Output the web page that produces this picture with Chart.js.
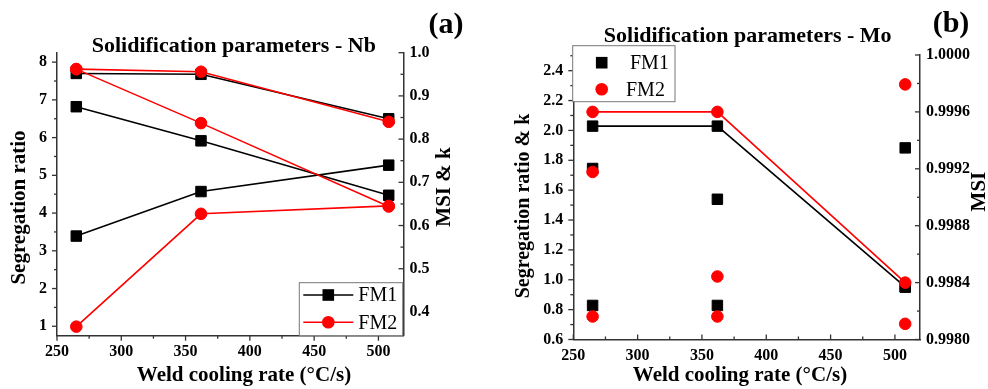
<!DOCTYPE html>
<html>
<head>
<meta charset="utf-8">
<script src="https://cdn.jsdelivr.net/npm/chart.js@4.4.0/dist/chart.umd.min.js"></script>
<style>
  body { margin: 0; background: #fff; width: 988px; height: 389px; overflow: hidden; position: relative; }
  canvas { position: absolute; top: 0; }
  #chartNb { left: 0; }
  #chartMo { left: 494px; }
</style>
</head>
<body>
<canvas id="chartNb" width="494" height="389"></canvas>
<canvas id="chartMo" width="494" height="389"></canvas>
<script>
const FONT = '"Liberation Serif", "Times New Roman", Times, serif';
Chart.defaults.font.family = FONT;
Chart.defaults.color = '#000';

// weld cooling rates (°C/s)
const coolingRate = [265, 362, 508];

// (a) Nb
const segNbFM1 = [3.39, 4.57, 5.27];
const segNbFM2 = [0.99, 3.98, 4.19];
const msiNbFM1 = [0.952, 0.950, 0.847];
const msiNbFM2 = [0.962, 0.956, 0.840];
const kNbFM1 = [0.875, 0.796, 0.670];
const kNbFM2 = [0.962, 0.837, 0.644];

// (b) Mo
const msiMoFM1 = [0.9995, 0.9995, 0.99837];
const msiMoFM2 = [0.9996, 0.9996, 0.9984];
const segMoFM1 = [1.745, 1.539, 1.883];
const segMoFM2 = [1.722, 1.022, 2.308];
const kMoFM1 = [0.828, 0.828, 0.951];
const kMoFM2 = [0.754, 0.754, 0.705];

// tick labels
const rateTicks = [250, 300, 350, 400, 450, 500];
const segTicksNb = [1, 2, 3, 4, 5, 6, 7, 8];
const msiTicksNb = [0.4, 0.5, 0.6, 0.7, 0.8, 0.9, 1.0];
const segTicksMo = [0.6, 0.8, 1.0, 1.2, 1.4, 1.6, 1.8, 2.0, 2.2, 2.4];
const msiTicksMo = [0.9980, 0.9984, 0.9988, 0.9992, 0.9996, 1.0000];

const BLACK = '#000000';
const RED = '#ff0000';

function pts(ys) {
    return coolingRate.map((x, i) => ({ x: x, y: ys[i] }));
}

function series(label, ys, axis, color, style, showLine, order) {
    return {
        label: label,
        data: pts(ys),
        yAxisID: axis,
        borderColor: color,
        backgroundColor: color,
        pointBorderColor: color,
        pointBackgroundColor: color,
        pointStyle: style,
        pointRadius: style === 'rect' ? 7.4 : 5.8,
        pointBorderWidth: 1,
        borderWidth: 1.6,
        showLine: showLine,
        order: order
    };
}

function axis(pos, min, max, tickList, digits, pad, size) {
    return {
        type: 'linear',
        position: pos,
        min: min,
        max: max,
        afterBuildTicks: s => { s.ticks = tickList.map(v => ({ value: v })); },
        afterFit: s => {
            if (pos === 'bottom') s.height = size; else s.width = size;
        },
        ticks: {
            autoSkip: false,
            padding: pad,
            font: { size: 16, weight: 'bold' },
            callback: v => digits == null ? String(v) : v.toFixed(digits)
        },
        grid: { display: false, drawTicks: false },
        border: { display: true, color: '#333', width: 1.5 }
    };
}

// ticks, axis titles and legend drawn on top of the chart
function makeDecor(cfg) {
    return {
        id: 'decor',
        afterDraw(chart) {
            const ctx = chart.ctx;
            ctx.save();
            ctx.strokeStyle = '#333';
            ctx.lineWidth = 1.3;
            cfg.ticks.forEach(t => {
                const s = chart.scales[t.id];
                const half = (t.majors[1] - t.majors[0]) / 2;
                for (let k = -40; k < 2 * t.majors.length + 40; k++) {
                    const v = t.majors[0] + k * half;
                    if (v < s.min - half * 1e-3 || v > s.max + half * 1e-3) continue;
                    const len = k % 2 === 0 ? 5 : 3;
                    const p = s.getPixelForValue(v);
                    ctx.beginPath();
                    if (t.id === 'x') {
                        const y0 = s.top;
                        ctx.moveTo(p, y0);
                        ctx.lineTo(p, t.dir === 'out' ? y0 + len : y0 - len);
                    } else if (s.position === 'left') {
                        const x0 = s.right;
                        ctx.moveTo(x0, p);
                        ctx.lineTo(t.dir === 'out' ? x0 - len : x0 + len, p);
                    } else {
                        const x0 = s.left;
                        ctx.moveTo(x0, p);
                        ctx.lineTo(t.dir === 'out' ? x0 + len : x0 - len, p);
                    }
                    ctx.stroke();
                }
            });

            cfg.texts.forEach(t => {
                ctx.save();
                ctx.translate(t.x, t.y);
                if (t.rot) ctx.rotate(t.rot * Math.PI / 180);
                ctx.font = (t.bold ? 'bold ' : '') + t.size + 'px ' + FONT;
                ctx.fillStyle = '#000';
                ctx.textAlign = 'center';
                ctx.textBaseline = 'middle';
                ctx.fillText(t.text, 0, 0);
                ctx.restore();
            });

            const lg = cfg.legend;
            ctx.fillStyle = '#fff';
            ctx.fillRect(lg.box[0], lg.box[1], lg.box[2] - lg.box[0], lg.box[3] - lg.box[1]);
            ctx.strokeStyle = '#777';
            ctx.lineWidth = 1;
            ctx.strokeRect(lg.box[0], lg.box[1], lg.box[2] - lg.box[0], lg.box[3] - lg.box[1]);
            lg.items.forEach(it => {
                if (lg.line) {
                    ctx.strokeStyle = it.color;
                    ctx.lineWidth = 1.6;
                    ctx.beginPath();
                    ctx.moveTo(lg.line[0], it.y);
                    ctx.lineTo(lg.line[1], it.y);
                    ctx.stroke();
                }
                ctx.fillStyle = it.color;
                if (it.style === 'rect') {
                    ctx.fillRect(lg.mx - 5.8, it.y - 5.8, 11.6, 11.6);
                } else {
                    ctx.beginPath();
                    ctx.arc(lg.mx, it.y, 6.3, 0, Math.PI * 2);
                    ctx.fill();
                }
                ctx.fillStyle = '#000';
                ctx.font = '20px ' + FONT;
                ctx.textAlign = 'left';
                ctx.textBaseline = 'middle';
                ctx.fillText(it.text, it.tx, it.y + 1);
            });
            ctx.restore();
        }
    };
}

const baseOptions = {
    responsive: false,
    animation: false,
    plugins: { legend: { display: false }, tooltip: { enabled: false } }
};

new Chart(document.getElementById('chartNb'), {
    type: 'scatter',
    data: {
        datasets: [
            series('FM1 segregation ratio', segNbFM1, 'y', BLACK, 'rect', true, 2),
            series('FM1 MSI', msiNbFM1, 'y1', BLACK, 'rect', true, 2),
            series('FM1 k', kNbFM1, 'y1', BLACK, 'rect', true, 2),
            series('FM2 segregation ratio', segNbFM2, 'y', RED, 'circle', true, 1),
            series('FM2 MSI', msiNbFM2, 'y1', RED, 'circle', true, 1),
            series('FM2 k', kNbFM2, 'y1', RED, 'circle', true, 1)
        ]
    },
    options: Object.assign({}, baseOptions, {
        layout: { padding: { top: 52.7, left: 0, right: 0, bottom: 0 } },
        scales: {
            x: axis('bottom', 250, 519.5, rateTicks, null, 7, 53.3),
            y: axis('left', 0.75, 8.25, segTicksNb, null, 10, 57),
            y1: axis('right', 0.345, 1.0, msiTicksNb, 1, 6, 90.5)
        }
    }),
    plugins: [makeDecor({
        ticks: [
            { id: 'x', majors: rateTicks, dir: 'out' },
            { id: 'y', majors: segTicksNb, dir: 'out' },
            { id: 'y1', majors: msiTicksNb, dir: 'in' }
        ],
        texts: [
            { text: 'Solidification parameters - Nb', x: 233.8, y: 46.5, size: 22, bold: true },
            { text: '(a)', x: 446, y: 25, size: 30, bold: true },
            { text: 'Segregation ratio', x: 20, y: 207.5, size: 21, bold: true, rot: -90 },
            { text: 'MSI & k', x: 445, y: 187, size: 21, bold: true, rot: -90 },
            { text: 'Weld cooling rate (°C/s)', x: 244, y: 376, size: 21, bold: true }
        ],
        legend: {
            box: [299.3, 282.7, 402.7, 335.7],
            line: [303.3, 353.3],
            mx: 328.3,
            items: [
                { text: 'FM1', y: 295, tx: 358.3, color: BLACK, style: 'rect' },
                { text: 'FM2', y: 322.3, tx: 358.3, color: RED, style: 'circle' }
            ]
        }
    })]
});

new Chart(document.getElementById('chartMo'), {
    type: 'scatter',
    data: {
        datasets: [
            series('FM1 MSI', msiMoFM1, 'y1', BLACK, 'rect', true, 2),
            series('FM1 segregation ratio', segMoFM1, 'y', BLACK, 'rect', false, 2),
            series('FM1 k', kMoFM1, 'y', BLACK, 'rect', false, 2),
            series('FM2 MSI', msiMoFM2, 'y1', RED, 'circle', true, 1),
            series('FM2 segregation ratio', segMoFM2, 'y', RED, 'circle', false, 1),
            series('FM2 k', kMoFM2, 'y', RED, 'circle', false, 1)
        ]
    },
    options: Object.assign({}, baseOptions, {
        layout: { padding: { top: 55, left: 0, right: 0, bottom: 0 } },
        scales: {
            x: axis('bottom', 250, 519.5, rateTicks, null, 7, 49.5),
            y: axis('left', 0.6, 2.505, segTicksMo, 1, 10, 79.3),
            y1: axis('right', 0.998, 1.0, msiTicksMo, 4, 6, 68)
        }
    }),
    plugins: [makeDecor({
        ticks: [
            { id: 'x', majors: rateTicks, dir: 'in' },
            { id: 'y', majors: segTicksMo, dir: 'out' },
            { id: 'y1', majors: msiTicksMo, dir: 'in' }
        ],
        texts: [
            { text: 'Solidification parameters - Mo', x: 253.7, y: 36.5, size: 22, bold: true },
            { text: '(b)', x: 457, y: 24, size: 30, bold: true },
            { text: 'Segregation ratio & k', x: 30, y: 206, size: 20, bold: true, rot: -90 },
            { text: 'MSI', x: 486, y: 191.6, size: 21, bold: true, rot: -90 },
            { text: 'Weld cooling rate (°C/s)', x: 246, y: 376, size: 21, bold: true }
        ],
        legend: {
            box: [78.7, 45.7, 181, 101.7],
            line: null,
            mx: 107.7,
            items: [
                { text: 'FM1', y: 62.7, tx: 136, color: BLACK, style: 'rect' },
                { text: 'FM2', y: 89.3, tx: 132, color: RED, style: 'circle' }
            ]
        }
    })]
});
</script>
</body>
</html>
